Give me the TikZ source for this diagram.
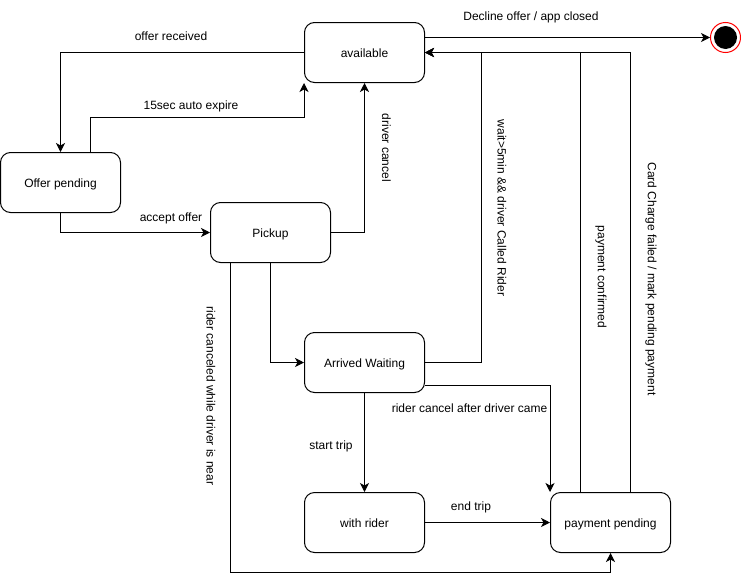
\documentclass[tikz,border=0pt]{standalone}
\usepackage{fontspec}
\setmainfont{Liberation Sans}
\usetikzlibrary{arrows.meta,positioning}
\tikzset{FSM style/.style={x=1pt,y=-1pt,line width=1pt,node distance=160pt,>={Stealth[length=9pt,width=9pt,inset=2.5pt]},
	every node/.style={font=\fontsize{12}{14}\selectfont},
	state/.style={draw,rounded corners=10pt,minimum width=120pt,minimum height=60pt,inner sep=0pt,text height=9pt,text depth=0pt},
	lbl/.style={inner sep=0pt,yshift=-1pt},
	vlbl/.style={inner sep=0pt,rotate=-90}}}

\begin{document}
\begin{tikzpicture}[FSM style]
	\useasboundingbox (0,0) rectangle (741,581);

	\node[state] (avail) at (364.5,52.5) {available};
	\node[state] (offer) at (60.5,182.5) {Offer pending};
	\node[state] [right of=offer, xshift=50, yshift=-50] (pickup) {Pickup};
	\node[state] [below of=avail, xshift=0, yshift=-150] (arrived) {Arrived Waiting};
	\node[state] [below of=arrived] (rider) {with rider};
	\node[state] [right of=rider, xshift=86] (pay) {payment pending};

	% final state
	\node[circle,draw=red,fill=white,minimum size=30pt,inner sep=0pt] (end) at (725.5,37.5) {};
	\node[circle,fill=black,minimum size=23pt,inner sep=0pt] (endin) at (end) {};

	\draw[->] (avail.west) -| (offer.north);
	\draw[->] ([xshift=30]offer.north) |- (250,117.5) -| (avail.south west);
	\draw[->] (offer.south) |- (pickup.west);
	\draw[->] (pickup.east) -| (avail.south);
	\draw[->] (pickup.south) |- (arrived.west);
	\draw[->] ([xshift=-40]pickup.south) |- (400,572.5) -| (pay.south);
	\draw[->] (arrived.east) -| ([xshift=56]avail.east) -- (avail.east);
	\draw[->] ([yshift=-23]arrived.east) -| (pay.north west);
	\draw[->] (arrived.south) -- (rider.north);
	\draw[->] (rider.east) -- (pay.west);
	\draw[->] ([xshift=-30]pay.north) |- (avail.east);
	\draw[->] ([xshift=20]pay.north) |- (avail.east);
	\draw[->] ([yshift=15]avail.east) -- (end.west);

	\node[lbl] (l1) at (171,35) {offer received};
	\node[lbl] (l2) at (191,105) {15sec auto expire};
	\node[lbl] (l3) at (171,217) {accept offer};
	\node[lbl] (l4) at (531,16) {Decline offer / app closed};
	\node[lbl] (l5) at (469.5,407) {rider cancel after driver came};
	\node[lbl] (l6) at (331,445) {start trip};
	\node[lbl] (l7) at (471,506) {end trip};
	\node[vlbl] (l8) at (386.5,148) {driver cancel};
	\node[vlbl] (l9) at (502,208) {wait>5min \&\& driver Called Rider};
	\node[vlbl] (l10) at (601,277) {payment confirmed};
	\node[vlbl] (l11) at (651,279) {Card Charge failed / mark pending payment};
	\node[vlbl] (l12) at (211,396) {rider canceled while driver is near};
\end{tikzpicture}
\end{document}
